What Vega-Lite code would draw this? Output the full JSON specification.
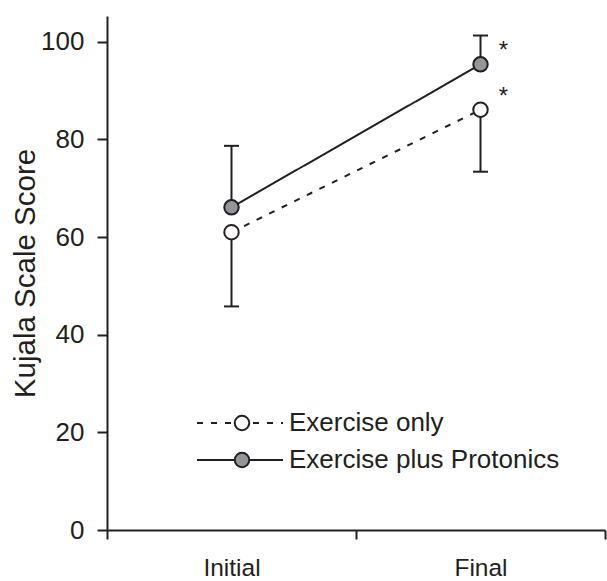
{
  "$schema": "https://vega.github.io/schema/vega-lite/v6.json",
  "width": 498,
  "height": 514,
  "autosize": {"type": "none"},
  "padding": {"left": 107, "top": 16, "right": 2, "bottom": 51},
  "background": "white",
  "config": {
    "view": {"stroke": null},
    "font": "Liberation Sans",
    "axis": {"grid": false, "domainColor": "#231f20", "tickColor": "#231f20", "labelColor": "#231f20", "titleColor": "#231f20", "domainWidth": 2, "tickWidth": 2, "labelFont": "Liberation Sans", "titleFont": "Liberation Sans"},
    "legend": {"labelFont": "Liberation Sans"}
  },
  "data": {
    "values": [
      {"time": "Initial", "group": "Exercise only", "mean": 61.0, "end": 45.8, "sig": ""},
      {"time": "Final", "group": "Exercise only", "mean": 86.1, "end": 73.4, "sig": "*"},
      {"time": "Initial", "group": "Exercise plus Protonics", "mean": 66.1, "end": 78.7, "sig": ""},
      {"time": "Final", "group": "Exercise plus Protonics", "mean": 95.4, "end": 101.3, "sig": "*"}
    ]
  },
  "encoding": {
    "x": {
      "field": "time", "type": "nominal", "sort": ["Initial", "Final"],
      "scale": {"type": "band", "paddingInner": 0, "paddingOuter": 0},
      "axis": {"title": null, "labelAngle": 0, "tickBand": "extent", "tickSize": 9, "labelFontSize": 24.5, "labelPadding": 17}
    },
    "y": {
      "field": "mean", "type": "quantitative",
      "scale": {"domain": [0, 105.3], "nice": false, "zero": true},
      "axis": {"title": "Kujala Scale Score", "values": [0, 20, 40, 60, 80, 100], "tickSize": 10, "labelFontSize": 26, "labelPadding": 13, "titleFontSize": 29.5, "titleFontWeight": "normal", "titlePadding": 0}
    }
  },
  "layer": [
    {
      "mark": {"type": "rule", "stroke": "#231f20", "strokeWidth": 2},
      "encoding": {"y2": {"field": "end"}}
    },
    {
      "mark": {"type": "tick", "orient": "horizontal", "size": 15, "thickness": 2, "color": "#231f20", "opacity": 1},
      "encoding": {"y": {"field": "end", "type": "quantitative"}}
    },
    {
      "mark": {"type": "line", "stroke": "#231f20", "strokeWidth": 2},
      "encoding": {
        "strokeDash": {
          "field": "group", "type": "nominal",
          "scale": {"range": [[6, 8], [1, 0]]},
          "legend": {"orient": "none", "legendX": 120, "legendY": 394, "title": null, "padding": 0, "symbolType": "M-4,0H4", "symbolSize": 462, "symbolStrokeWidth": 2, "symbolStrokeColor": "#231f20", "labelFontSize": 26, "labelColor": "#231f20", "labelOffset": 36, "labelLimit": 400, "rowPadding": 11, "zindex": 0}
        }
      }
    },
    {
      "mark": {"type": "point", "filled": true, "stroke": "#231f20", "strokeWidth": 2, "size": 210, "opacity": 1},
      "encoding": {
        "fill": {
          "field": "group", "type": "nominal",
          "scale": {"domain": ["Exercise only", "Exercise plus Protonics"], "range": ["#ffffff", "#939598"]},
          "legend": {"orient": "none", "legendX": 122, "legendY": 394, "title": null, "padding": 0, "symbolType": "circle", "symbolSize": 210, "symbolStrokeWidth": 2, "symbolStrokeColor": "#231f20", "symbolOpacity": 1, "labelFontSize": 26, "labelExpr": "''", "labelOffset": 6, "labelLimit": 400, "rowPadding": 11, "zindex": 1}
        }
      }
    },
    {
      "mark": {"type": "text", "dx": 23, "dy": -13, "fontSize": 24, "color": "#231f20", "font": "Liberation Sans"},
      "encoding": {"text": {"field": "sig"}}
    }
  ]
}
